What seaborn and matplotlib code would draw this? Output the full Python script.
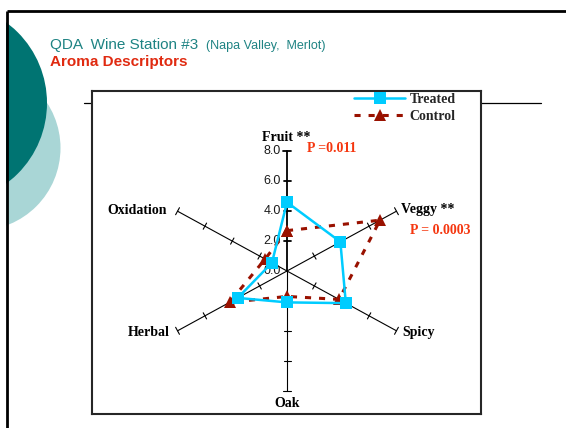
import numpy as np
import pandas as pd
import matplotlib
matplotlib.use("Agg")
import matplotlib.pyplot as plt
from matplotlib.patches import Circle, Rectangle
from matplotlib.font_manager import FontProperties
import seaborn as sns

# Aroma attribute scores (QDA panel means)
attributes = ["Fruit", "Veggy", "Spicy", "Oak", "Herbal", "Oxidation"]
axis_labels = ["Fruit **", "Veggy **", "Spicy", "Oak", "Herbal", "Oxidation"]
treated = [4.6, 3.9, 4.3, 2.1, 3.6, 1.1]
control = [2.7, 6.8, 3.8, 1.7, 4.2, 1.6]
series_names = ["Treated", "Control"]
radial_ticks = [0.0, 2.0, 4.0, 6.0, 8.0]
tick_labels = ["0.0", "2.0", "4.0", "6.0", "8.0"]
p_labels = {"Fruit": "P =0.011", "Veggy": "P = 0.0003"}

# spoke directions (degrees, counter-clockwise from east)
spoke_angles = [90, 30, -30, -90, 210, 150]
r_max = 8.0

W, H = 566, 428
CYAN = "#00CCFF"
DARK_RED = "#991100"
TEAL = "#1E8383"
RED = "#E02A10"
P_RED = "#F5360F"

sns.set_style("white")
plt.rcParams["font.family"] = ["Liberation Sans", "DejaVu Sans"]

fig = plt.figure(figsize=(W / 100, H / 100), dpi=100, facecolor="white")

# ---- slide background (pixel coordinates) ----
bg = fig.add_axes([0, 0, 1, 1], zorder=0)
bg.set_xlim(0, W)
bg.set_ylim(H, 0)
bg.axis("off")
bg.add_patch(Circle((-22, 148), 82.5, color="#A9D6D6", zorder=1, lw=0))
bg.add_patch(Circle((-53, 103), 100, color="#007472", zorder=2, lw=0))
bg.add_patch(Rectangle((0, 0), 6, H, color="white", zorder=3, lw=0))
bg.add_patch(Rectangle((0, 0), W, 10, color="white", zorder=3, lw=0))
bg.plot([6.5, W], [10.5, 10.5], color="black", lw=2.0, zorder=4,
        solid_capstyle="butt")
bg.plot([6.5, 6.5], [10.5, H], color="black", lw=2.0, zorder=4,
        solid_capstyle="butt")
bg.plot([481, 541], [103, 103], color="black", lw=0.9, zorder=4)
bg.plot([84, 92], [103, 103], color="black", lw=0.9, zorder=4)

bg.text(50, 49, "QDA  Wine Station #3", color=TEAL, fontsize=11,
        ha="left", va="baseline", zorder=5)
bg.text(206, 49, "(Napa Valley,  Merlot)", color=TEAL, fontsize=9,
        ha="left", va="baseline", zorder=5)
bg.text(50, 66, "Aroma Descriptors", color=RED, fontsize=11,
        fontweight="bold", ha="left", va="baseline", zorder=5)

# ---- radar chart area ----
box_l, box_t, box_r, box_b = 92, 91, 481, 414
cx, cy = 287, 271
sx, sy = 15.8, 14.95  # pixels per score unit

ax = fig.add_axes([box_l / W, (H - box_b) / H, (box_r - box_l) / W,
                   (box_b - box_t) / H], zorder=2)
ax.set_facecolor("white")
ax.set_xlim((box_l - cx) / sx, (box_r - cx) / sx)
ax.set_ylim((cy - box_b) / sy, (cy - box_t) / sy)
ax.set_xticks([])
ax.set_yticks([])
for s in ax.spines.values():
    s.set_visible(True)
    s.set_linewidth(1.5)
    s.set_color("#262626")

theta = np.deg2rad(spoke_angles)

# spokes with cross ticks
for name, th in zip(attributes, theta):
    lw = 1.3 if name == "Fruit" else 0.8
    ax.plot([0, r_max * np.cos(th)], [0, r_max * np.sin(th)],
            color="black", lw=lw, zorder=1)
    ux, uy = np.cos(th) * sx, np.sin(th) * sy
    norm = np.hypot(ux, uy)
    nx, ny = -uy / norm, ux / norm
    for r in radial_ticks[1:]:
        half = 4.0 if r == r_max else 3.5
        px, py = r * np.cos(th), r * np.sin(th)
        dx, dy = nx * half / sx, ny * half / sy
        ax.plot([px - dx, px + dx], [py - dy, py + dy], color="black",
                lw=lw, zorder=1)

# scale labels on the Fruit spoke
for r, lab in zip(radial_ticks, tick_labels):
    ax.annotate(lab, xy=(0, r), xytext=(-6, 0), textcoords="offset pixels",
                ha="right", va="center", fontsize=9, color="#1A1A1A",
                zorder=3)

# series polygons
def closed_frame(values):
    v = np.array(values + values[:1], dtype=float)
    t = np.concatenate([theta, theta[:1]])
    return pd.DataFrame({"x": v * np.cos(t), "y": v * np.sin(t)})

sns.lineplot(data=closed_frame(control), x="x", y="y", sort=False,
             estimator=None, color=DARK_RED, linewidth=2.2,
             linestyle=(0, (2.0, 2.6)), marker="^", markersize=8,
             markeredgecolor=DARK_RED, markeredgewidth=0,
             label=series_names[1], ax=ax, zorder=4)
sns.lineplot(data=closed_frame(treated), x="x", y="y", sort=False,
             estimator=None, color=CYAN, linewidth=1.8, marker="s",
             markersize=8, markeredgecolor=CYAN, markeredgewidth=0,
             label=series_names[0], ax=ax, zorder=5)
ax.set_xlabel("")
ax.set_ylabel("")

# spoke titles
label_font = FontProperties(family="Liberation Serif", weight="bold", size=10)
label_offsets = {
    "Fruit": ((-1, 14), "center"),
    "Veggy": ((5, 2), "left"),
    "Spicy": ((6, -2), "left"),
    "Oak": ((0, -12.5), "center"),
    "Herbal": ((-7.5, -2), "right"),
    "Oxidation": ((-11, 1), "right"),
}
for name, lab, th in zip(attributes, axis_labels, theta):
    off, ha = label_offsets[name]
    ax.annotate(lab, xy=(r_max * np.cos(th), r_max * np.sin(th)),
                xytext=off, textcoords="offset pixels", ha=ha, va="center",
                fontproperties=label_font, color="black", zorder=6)

p_offsets = {"Fruit": (20, 3), "Veggy": (13.5, -19.5)}
for name, txt in p_labels.items():
    th = theta[attributes.index(name)]
    ax.annotate(txt, xy=(r_max * np.cos(th), r_max * np.sin(th)),
                xytext=p_offsets[name], textcoords="offset pixels",
                ha="left", va="center", fontproperties=label_font,
                color=P_RED, zorder=6)

handles, labels = ax.get_legend_handles_labels()
order = [labels.index(n) for n in series_names]
ax.legend([handles[i] for i in order], [labels[i] for i in order],
          loc="upper left", bbox_to_anchor=(354 / W, 1 - 93 / H),
          bbox_transform=fig.transFigure, frameon=False, prop=label_font,
          handlelength=3.7, handletextpad=0.3, borderpad=0,
          labelspacing=0.3, borderaxespad=0, numpoints=1)

fig.savefig("out.png", dpi=100, facecolor="white")
